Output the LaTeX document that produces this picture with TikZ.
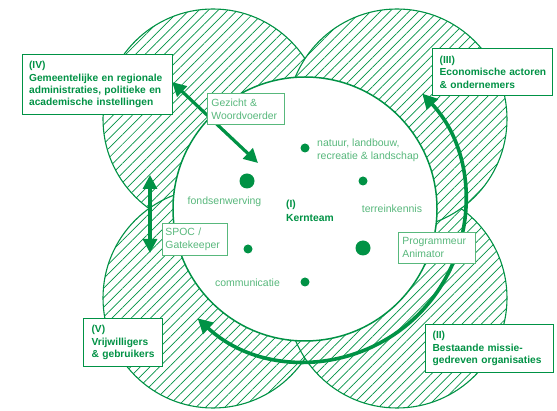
\documentclass[tikz,border=0pt]{standalone}
\usepackage{fontspec}
\setmainfont{Liberation Sans}
\usetikzlibrary{patterns.meta,arrows.meta}
\definecolor{dg}{RGB}{0,146,69}
\definecolor{lg}{RGB}{88,184,124}
\begin{document}
\begin{tikzpicture}[x=1pt,y=-1pt,
  hatchcircle/.style={preaction={fill=white}, pattern={Lines[angle=45,distance=6.8pt,line width=0.7pt]}, pattern color=dg, draw=dg, line width=1.1pt},
  corebox/.style={draw=dg, line width=1.2pt, fill=white, text=dg, align=left, anchor=north west,
    font=\fontsize{10.2}{12.3}\selectfont\bfseries, inner ysep=0pt},
  rolebox/.style={draw=lg, line width=0.9pt, fill=white, text=lg, align=left, anchor=north west,
    font=\fontsize{10.4}{13}\selectfont, inner ysep=0pt},
  lbl/.style={text=lg, font=\fontsize{10.5}{13}\selectfont, inner sep=0pt, align=left},
  bigdot/.style={circle, fill=dg, inner sep=0pt, minimum size=15pt},
  smalldot/.style={circle, fill=dg, inner sep=0pt, minimum size=9pt},
  biarrow/.style={draw=dg, line width=3.2pt, {Triangle[length=14pt,width=14pt]}-{Triangle[length=14pt,width=14pt]}},
  arcarrow/.style={draw=dg, line width=3.6pt, {Triangle[length=15pt,width=15pt]}-{Triangle[length=15pt,width=15pt]}}
]
\useasboundingbox (0,0) rectangle (557,411);
\fill[white] (0,0) rectangle (557,411);

% four hatched circles
\path[hatchcircle] (213,119) circle[radius=110];
\path[hatchcircle] (213,298) circle[radius=110];
\path[hatchcircle] (397,298) circle[radius=110];
\path[hatchcircle] (397,119) circle[radius=110];

% central circle
\coordinate (kc) at (305,209);
\draw[dg, line width=1.5pt, fill=white] (kc) circle[radius=132];

% arc arrow
\coordinate (ac) at (306,202);
\draw[arcarrow] (ac) ++(133:159) arc[start angle=133, end angle=-43, radius=159];

% dots
\node[bigdot] (d1) at (247,181) {};
\node[smalldot] (d2) at (305,148) {};
\node[smalldot] (d3) at (363,181) {};
\node[bigdot] (d4) at (363,248) {};
\node[smalldot] (d5) at (248,249) {};
\node[smalldot] (d6) at (305,282) {};

% labels
\node[lbl, anchor=west] (natuur) at (317,150.5) {natuur, landbouw,\\recreatie \& landschap};
\node[lbl] (fonds) at (224.5,201.5) {fondsenwerving};
\node[lbl] (terrein) at (392,209) {terreinkennis};
\node[lbl] (comm) at (247.5,283) {communicatie};
\node[text=dg, font=\fontsize{10.3}{14}\selectfont\bfseries, inner sep=0pt, align=left, anchor=west] (kern) at (286,211) {(I)\\Kernteam};

% double arrows
\coordinate (gzA) at (172,82);
\coordinate (gzB) at (258,163);
\draw[biarrow] (gzA) -- (gzB);
\coordinate (spA) at (150,175);
\coordinate (spB) at (150,253);
\draw[biarrow] (spA) -- (spB);

% role boxes
\node[rolebox, minimum width=77pt, minimum height=31pt, text width=69pt, inner xsep=4pt] (gezicht) at (207,93) {\mbox{Gezicht \&}\\\mbox{Woordvoerder}};
\node[rolebox, minimum width=65pt, minimum height=32pt, text width=59pt, inner xsep=3pt] (spoc) at (162,223) {\mbox{SPOC /}\\\mbox{Gatekeeper}};
\node[rolebox, minimum width=77pt, minimum height=31pt, text width=69pt, inner xsep=4pt] (prog) at (398,232) {\mbox{Programmeur}\\\mbox{Animator}};

% group boxes
\node[corebox, minimum width=150pt, minimum height=60pt, text width=137pt, inner xsep=6.5pt] (iv) at (22,54) {\mbox{(IV)}\\\mbox{Gemeentelijke en regionale}\\\mbox{administraties, politieke en}\\\mbox{academische instellingen}};
\node[corebox, minimum width=120pt, minimum height=47pt, text width=106pt, inner xsep=7pt] (iii) at (432,48) {\mbox{(III)}\\\mbox{Economische actoren}\\\mbox{\& ondernemers}};
\node[corebox, minimum width=79pt, minimum height=48pt, text width=63pt, inner xsep=8pt] (v) at (83,318) {\mbox{(V)}\\\mbox{Vrijwilligers}\\\mbox{\& gebruikers}};
\node[corebox, minimum width=128pt, minimum height=48pt, text width=114pt, inner xsep=7pt] (ii) at (425,324) {\mbox{(II)}\\\mbox{Bestaande missie-}\\\mbox{gedreven organisaties}};
\end{tikzpicture}
\end{document}
